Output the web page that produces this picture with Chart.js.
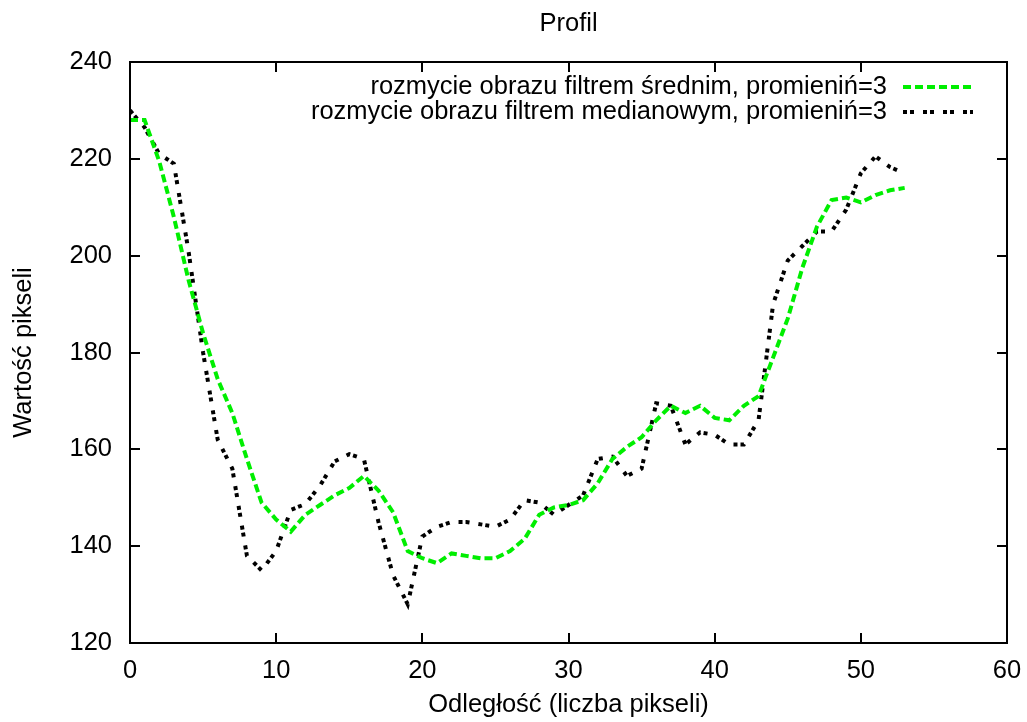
<!DOCTYPE html>
<html lang="pl">
<head>
    <meta charset="UTF-8">
    <title>Profil</title>
    <script src="https://cdn.jsdelivr.net/npm/chart.js@4.4.0/dist/chart.umd.min.js"></script>
    <style>
        html, body { margin: 0; padding: 0; background: #fff; }
        canvas { display: block; }
    </style>
</head>
<body>
    <canvas id="wykres" width="1027" height="722"></canvas>
    <script>
        // Odległość wzdłuż profilu (w pikselach)
        const odleglosc = [0, 1, 2, 3, 4, 5, 6, 7, 8, 9, 10, 11, 12, 13, 14, 15, 16, 17, 18, 19,
            20, 21, 22, 23, 24, 25, 26, 27, 28, 29, 30, 31, 32, 33, 34, 35, 36, 37, 38, 39,
            40, 41, 42, 43, 44, 45, 46, 47, 48, 49, 50, 51, 52, 53];

        // Profil po filtrze średnim
        const filtrSredni = [228, 228, 219.5, 208, 195, 184, 174.5, 167.5, 158, 149, 145.5, 143, 146.5, 148.5, 150.5, 152, 154.5, 151.5, 147, 139,
            137.5, 136.5, 138.5, 138, 137.5, 137.5, 139, 141.5, 146.5, 148, 148.5, 149.5, 153, 158, 160.5, 162.5, 166, 169, 167.5, 169,
            166.5, 166, 169, 171, 179, 187, 197.5, 206, 211.5, 212, 211, 212.5, 213.5, 214];

        // Profil po filtrze medianowym
        const filtrMedianowy = [230, 226.5, 221, 219, 201, 180, 162, 156, 138, 135, 139, 147.5, 148.7, 152.5, 157.5, 159, 158, 145, 134, 128,
            142, 144, 145, 145, 144.5, 144, 145.5, 149.5, 149, 146.5, 148.5, 150.5, 158, 158.5, 154.5, 156, 169.5, 169, 161, 163.5,
            163, 161, 161, 166, 190, 199, 202, 205, 205, 209.5, 217, 220.5, 218.3, 217];

        const etykiety = [
            'rozmycie obrazu filtrem średnim, promieniń=3',
            'rozmycie obrazu filtrem medianowym, promieniń=3'
        ];

        const czcionka = { family: "'Liberation Sans', Arial, Helvetica, sans-serif", size: 25.5 };

        function punkty(wartosci) {
            return wartosci.map((v, i) => ({ x: odleglosc[i], y: v }));
        }

        // Ramka wykresu, znaczniki do środka i legenda w stylu gnuplota
        const ramka = {
            id: 'ramka',
            afterDraw(chart) {
                const ctx = chart.ctx;
                const a = chart.chartArea;
                const dl = 10;
                ctx.save();
                ctx.strokeStyle = '#000';
                ctx.lineWidth = 2;
                ctx.setLineDash([]);
                ctx.beginPath();
                chart.scales.x.ticks.forEach(t => {
                    const px = Math.round(chart.scales.x.getPixelForValue(t.value));
                    ctx.moveTo(px, a.bottom); ctx.lineTo(px, a.bottom - dl);
                    ctx.moveTo(px, a.top); ctx.lineTo(px, a.top + dl);
                });
                chart.scales.y.ticks.forEach(t => {
                    const py = Math.round(chart.scales.y.getPixelForValue(t.value));
                    ctx.moveTo(a.left, py); ctx.lineTo(a.left + dl, py);
                    ctx.moveTo(a.right, py); ctx.lineTo(a.right - dl, py);
                });
                ctx.stroke();
                ctx.strokeRect(a.left, a.top, a.right - a.left, a.bottom - a.top);

                // legenda
                ctx.font = czcionka.size + 'px ' + czcionka.family;
                ctx.fillStyle = '#000';
                ctx.textAlign = 'right';
                ctx.textBaseline = 'middle';
                chart.data.datasets.forEach((ds, i) => {
                    const y = a.top + 25 + i * 25;
                    ctx.fillText(ds.label, a.right - 120, y);
                    ctx.strokeStyle = ds.borderColor;
                    ctx.lineWidth = ds.borderWidth;
                    ctx.setLineDash(ds.borderDash);
                    ctx.beginPath();
                    ctx.moveTo(a.right - 104, y);
                    ctx.lineTo(a.right - 34, y);
                    ctx.stroke();
                });
                ctx.restore();
            }
        };

        new Chart(document.getElementById('wykres'), {
            type: 'line',
            data: {
                datasets: [
                    {
                        label: etykiety[0],
                        data: punkty(filtrSredni),
                        borderColor: 'rgb(0, 238, 0)',
                        borderWidth: 4,
                        borderDash: [8, 4],
                        pointRadius: 0,
                        tension: 0,
                        fill: false
                    },
                    {
                        label: etykiety[1],
                        data: punkty(filtrMedianowy),
                        borderColor: '#000',
                        borderWidth: 4,
                        borderDash: [4, 3, 4, 9],
                        pointRadius: 0,
                        tension: 0,
                        fill: false
                    }
                ]
            },
            options: {
                responsive: false,
                devicePixelRatio: 1,
                animation: false,
                layout: { padding: { left: 0, right: 20, top: 0, bottom: 0 } },
                plugins: {
                    legend: { display: false },
                    tooltip: { enabled: false },
                    title: {
                        display: true,
                        fullSize: false,
                        text: 'Profil',
                        color: '#000',
                        font: { family: czcionka.family, size: czcionka.size, weight: 'normal' },
                        padding: { top: 9, bottom: 22.4 }
                    }
                },
                scales: {
                    x: {
                        type: 'linear',
                        min: 0,
                        max: 60,
                        ticks: { stepSize: 10, color: '#000', font: czcionka, padding: 13, maxRotation: 0 },
                        grid: { drawOnChartArea: false, drawTicks: false },
                        border: { display: false },
                        title: {
                            display: true,
                            text: 'Odległość (liczba pikseli)',
                            color: '#000',
                            font: czcionka,
                            padding: { top: 0, bottom: 2 }
                        },
                        afterFit(s) {
                            s.height = 79;
                            s.paddingLeft = 0;
                            s.paddingRight = 0;
                        }
                    },
                    y: {
                        min: 120,
                        max: 240,
                        ticks: { stepSize: 20, color: '#000', font: czcionka, padding: 18 },
                        grid: { drawOnChartArea: false, drawTicks: false },
                        border: { display: false },
                        title: {
                            display: true,
                            text: 'Wartość pikseli',
                            color: '#000',
                            font: czcionka,
                            padding: { top: 9, bottom: 0 }
                        },
                        afterFit(s) { s.width = 130; }
                    }
                }
            },
            plugins: [ramka]
        });
    </script>
</body>
</html>
